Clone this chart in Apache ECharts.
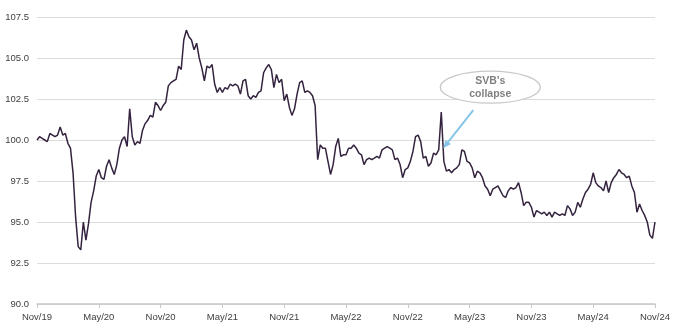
<!DOCTYPE html>
<html>
<head>
<meta charset="utf-8">
<script src="https://cdn.jsdelivr.net/npm/echarts@6/dist/echarts.min.js"></script>
<style>
html,body{margin:0;padding:0;background:#fff;}
#c{width:680px;height:330px;}
</style>
</head>
<body>
<div id="c"></div>
<script>
// Tick labels (one every 6 months; 4 points per month)
const tickLabels = ['Nov/19','May/20','Nov/20','May/21','Nov/21','May/22','Nov/22','May/23','Nov/23','May/24','Nov/24'];
const pointsPerTick = 24;

// Series values (approx. weekly)
const vals2020 = [100.0,100.2,100.1,100.0,99.9,100.4,100.3,100.2,100.3,100.8,100.3,100.4,
  99.8,99.5,98.0,95.3,93.5,93.3,95.0,93.9,94.9,96.2,96.9,97.8,
  98.2,97.7,97.6,98.4,98.8,98.3,97.9,98.5,99.5,100.0,100.2,99.6,
  101.9,100.2,99.7,99.9,99.8,100.6,101.0,101.2,101.5,101.4,102.3,102.1];
const vals2021 = [101.8,102.1,102.3,103.3,103.5,103.6,103.7,104.5,104.3,106.1,106.7,106.3,
  106.1,105.5,105.9,105.0,104.4,103.6,104.5,104.4,104.6,103.4,102.9,103.2,
  102.9,103.2,103.1,103.4,103.3,103.4,103.3,102.8,103.6,103.7,102.7,102.5,
  102.7,102.6,102.9,103.0,104.1,104.4,104.6,104.3,103.2,104.0,103.5,103.7];
const vals2022 = [102.4,102.8,102.0,101.5,101.9,102.8,103.5,103.6,102.9,103.0,102.9,102.7,
  102.1,98.8,99.7,99.5,99.5,98.7,97.9,98.5,99.6,100.1,99.0,99.1,
  99.1,99.5,99.5,99.7,99.5,99.2,99.1,98.5,98.8,98.9,98.8,98.9,
  99.0,98.9,99.4,99.5,99.6,99.5,99.4,98.8,98.9,98.5,97.7,98.2];
const vals2023 = [98.3,98.7,99.3,100.2,100.3,99.9,98.9,99.0,98.4,98.6,99.2,99.1,
  99.4,101.7,98.7,98.1,98.2,98.0,98.2,98.3,98.5,99.4,99.3,98.7,
  98.6,98.3,97.7,98.1,98.0,97.7,97.2,97.0,96.6,97.0,97.1,97.2,
  96.9,96.6,96.5,96.9,97.1,97.0,97.1,97.4,96.8,96.0,96.2,96.2];
const vals2024 = [95.9,95.3,95.7,95.6,95.5,95.6,95.4,95.6,95.3,95.6,95.5,95.4,
  95.5,95.4,96.0,95.8,95.4,95.6,96.2,95.9,96.4,96.8,97.0,97.3,
  98.0,97.4,97.2,97.1,96.9,97.5,96.8,97.4,97.7,97.9,98.2,98.0,
  97.9,97.7,97.8,97.2,96.8,95.6,96.1,95.7,95.4,95.0,94.2,94.0,
  95.0];

// Annotation
const annotationLines = ["SVB's", 'collapse'];
const annotationIndex = 157; // data index of the SVB spike
const annotationValue = 99.5;

const values = [].concat(vals2020, vals2021, vals2022, vals2023, vals2024);
const categories = values.map((_, i) => String(i));

const chart = echarts.init(document.getElementById('c'), null, {renderer: 'canvas'});
const FONT = '"Liberation Sans", Arial, sans-serif';

chart.setOption({
  animation: false,
  backgroundColor: '#ffffff',
  grid: {left: 37, right: 25, top: 17, bottom: 26, containLabel: false},
  xAxis: {
    type: 'category',
    data: categories,
    boundaryGap: false,
    axisLine: {show: true, lineStyle: {color: '#c8c8c8', width: 1.5}},
    axisTick: {show: true, length: 4, lineStyle: {color: '#c8c8c8'},
      interval: (i) => i % pointsPerTick === 0},
    axisLabel: {
      interval: (i) => i % pointsPerTick === 0,
      formatter: (v, i) => tickLabels[Math.round(i / pointsPerTick)] || '',
      color: '#404040', fontSize: 9.5, fontFamily: FONT, margin: 8
    },
    splitLine: {show: false}
  },
  yAxis: {
    type: 'value',
    min: 90, max: 107.5, interval: 2.5,
    axisLine: {show: false},
    axisTick: {show: false},
    axisLabel: {formatter: (v) => v.toFixed(1), color: '#404040', fontSize: 9.5, fontFamily: FONT, margin: 8},
    splitLine: {show: true, lineStyle: {color: '#dcdcdc', width: 1}}
  },
  series: [{
    type: 'line',
    data: values,
    showSymbol: false,
    symbol: 'none',
    lineStyle: {color: '#34233f', width: 1.5},
    z: 3
  }]
});

// Annotation placed relative to the spike, through the chart's own scales
const p = chart.convertToPixel({seriesIndex: 0}, [annotationIndex, annotationValue]);
const tip = [p[0] + 2, p[1]];
const start = [tip[0] + 30, tip[1] - 38];
const dx = tip[0] - start[0], dy = tip[1] - start[1];
const len = Math.sqrt(dx*dx + dy*dy);
const ux = dx / len, uy = dy / len;
const headLen = 8, headW = 3.5;
const base = [tip[0] - ux*headLen, tip[1] - uy*headLen];
const ec = [tip[0] + 47, tip[1] - 61];

chart.setOption({
  graphic: [
    {type: 'ellipse', shape: {cx: ec[0], cy: ec[1], rx: 50, ry: 16},
     style: {fill: '#ffffff', stroke: '#c8c8c8', lineWidth: 1.2}, z: 10},
    {type: 'text', x: ec[0], y: ec[1] - 6, style: {text: annotationLines[0], fill: '#808080',
      font: 'bold 10.5px ' + FONT, textAlign: 'center', textVerticalAlign: 'middle'}, z: 11},
    {type: 'text', x: ec[0], y: ec[1] + 7, style: {text: annotationLines[1], fill: '#808080',
      font: 'bold 10.5px ' + FONT, textAlign: 'center', textVerticalAlign: 'middle'}, z: 11},
    {type: 'line', shape: {x1: start[0], y1: start[1], x2: base[0], y2: base[1]},
     style: {stroke: '#86c5e8', lineWidth: 2}, z: 10},
    {type: 'polygon', shape: {points: [tip,
       [base[0] - uy*headW, base[1] + ux*headW],
       [base[0] + uy*headW, base[1] - ux*headW]]},
     style: {fill: '#86c5e8'}, z: 10}
  ]
});
</script>
</body>
</html>
